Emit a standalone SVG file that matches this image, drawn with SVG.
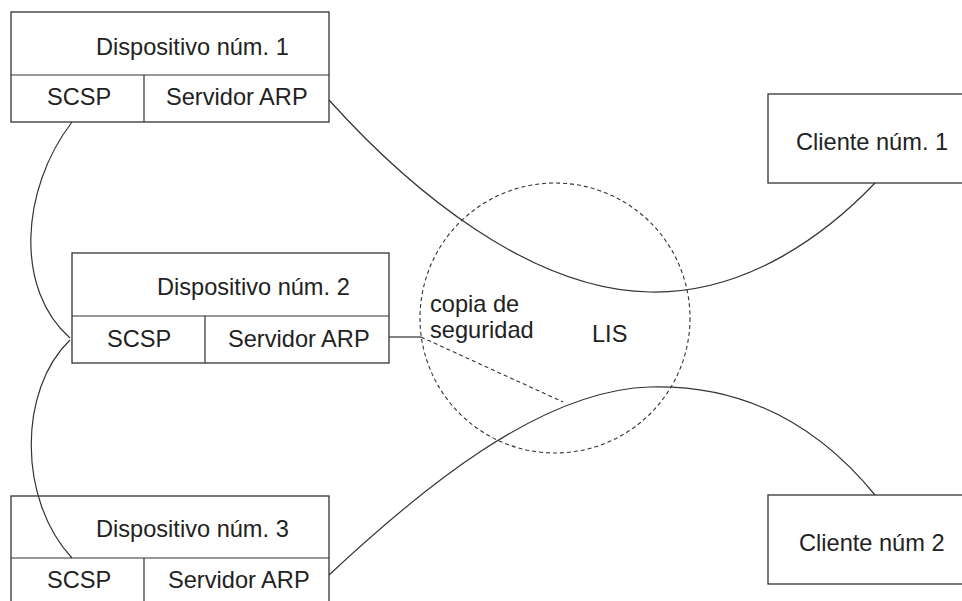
<svg xmlns="http://www.w3.org/2000/svg" width="962" height="601" viewBox="0 0 962 601">
<style>
.box{fill:none;stroke:#333;stroke-width:1.3}
.ln{fill:none;stroke:#333;stroke-width:1.2}
.dash{fill:none;stroke:#333;stroke-width:1.1;stroke-dasharray:4 3}
text{font-family:"Liberation Sans",Arial,sans-serif;font-size:23.6px;fill:#222}
</style>
<rect width="962" height="601" fill="#fff"/>
<g id="connectors">
<path class="ln" d="M329,100 C410,190 530,290 650,292 C750,294 830,230 875,183"/>
<path class="ln" d="M329,575 C420,490 540,390 650,387 C760,384 830,440 875,495"/>
<path class="ln" d="M72,122 C20,190 15,290 70,338"/>
<path class="ln" d="M70,340 C18,390 18,500 72,558"/>
<path class="ln" d="M389,337 H421"/>
<path class="dash" d="M421,337 L563,402"/>
</g>
<g id="lis">
<circle class="dash" cx="555" cy="318" r="135"/>
<text x="430" y="312">copia de</text>
<text x="430" y="338">seguridad</text>
<text x="592" y="342">LIS</text>
</g>
<g id="dev1">
<rect class="box" x="11" y="12" width="318" height="110"/>
<path class="ln" d="M11,75 H329 M144,75 V122"/>
<text x="96" y="55">Dispositivo núm. 1</text>
<text x="47" y="105">SCSP</text>
<text x="166" y="105">Servidor ARP</text>
</g>
<g id="dev2">
<rect class="box" x="72" y="253" width="317" height="110"/>
<path class="ln" d="M72,316 H389 M205,316 V363"/>
<text x="157" y="295">Dispositivo núm. 2</text>
<text x="107" y="347">SCSP</text>
<text x="228" y="347">Servidor ARP</text>
</g>
<g id="dev3">
<rect class="box" x="11" y="496" width="318" height="120"/>
<path class="ln" d="M11,558 H329 M144,558 V610"/>
<text x="96" y="537">Dispositivo núm. 3</text>
<text x="47" y="588">SCSP</text>
<text x="168" y="588">Servidor ARP</text>
</g>
<g id="client1">
<rect class="box" x="768" y="94" width="210" height="89"/>
<text x="796" y="150">Cliente núm. 1</text>
</g>
<g id="client2">
<rect class="box" x="768" y="495" width="210" height="89"/>
<text x="799" y="551">Cliente núm 2</text>
</g>
</svg>
